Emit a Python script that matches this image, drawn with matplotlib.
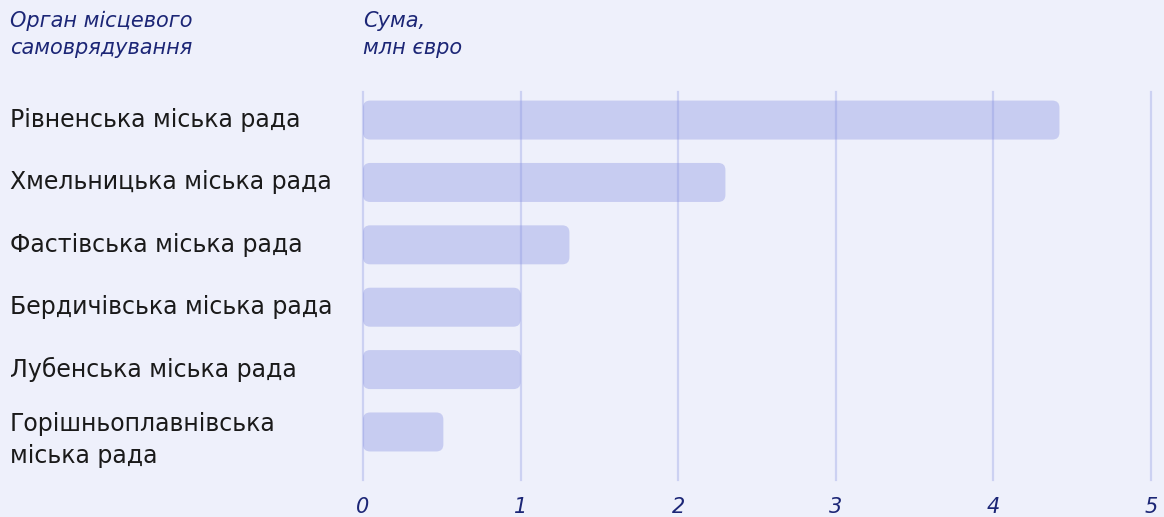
import matplotlib.pyplot as plt
import matplotlib.transforms as mtransforms
from matplotlib.patches import FancyBboxPatch

# --- Дані ---
councils = [
    "Рівненська міська рада",
    "Хмельницька міська рада",
    "Фастівська міська рада",
    "Бердичівська міська рада",
    "Лубенська міська рада",
    "Горішньоплавнівська\nміська рада",
]
amounts = [4.42, 2.30, 1.31, 1.00, 1.00, 0.51]
x_ticks = [0, 1, 2, 3, 4, 5]

BG = "#eef0fb"
BAR = "#c7ccf1"
NAVY = "#1c2676"
TEXT = "#1a1a1a"

plt.rcParams['font.family'] = ['DejaVu Sans']

fig = plt.figure(figsize=(11.64, 5.17), dpi=100, facecolor=BG)
W, H = 1164, 517
left, right, top, bottom = 363, 1154, 92, 480
ax = fig.add_axes([left / W, 1 - bottom / H, (right - left) / W, (bottom - top) / H])
ax.set_facecolor(BG)

y = list(range(len(councils)))
bars = ax.barh(y, amounts, height=0.625, color=BAR, zorder=1)

ax.set_xlim(0, 5.02)
ax.set_ylim(5.77, -0.45)

# заокруглені кути барів
px_x = (right - left) / 5.02
px_y = (bottom - top) / 6.22
for rect in list(bars):
    rx, ry = rect.get_x(), rect.get_y()
    rw, rh = rect.get_width(), rect.get_height()
    rect.remove()
    ax.add_patch(FancyBboxPatch((rx, ry), rw, rh,
                                boxstyle="round,pad=0,rounding_size=0.045",
                                mutation_aspect=px_x / px_y,
                                facecolor=BAR, edgecolor="none", zorder=1))

# вертикальна сітка
for t in x_ticks:
    ax.axvline(t, color="#7f8ae0", alpha=0.3, lw=1.6, zorder=2, clip_on=False)

ax.set_xticks(x_ticks)
ax.set_xticklabels([str(t) for t in x_ticks], fontstyle='italic', fontsize=15, color=NAVY)
ax.tick_params(axis='x', length=0, pad=12)
ax.set_yticks([])
for s in ax.spines.values():
    s.set_visible(False)

# підписи категорій
trans = mtransforms.blended_transform_factory(fig.transFigure, ax.transData)
for i, name in enumerate(councils):
    off = 0.13 if "\n" in name else 0
    ax.text(10 / W, i + off, name, transform=trans, ha='left', va='center',
            fontsize=17, color=TEXT, linespacing=1.45)

# заголовки колонок
fig.text(10 / W, 1 - 11 / H, "Орган місцевого\nсамоврядування", ha='left', va='top',
         fontsize=15, fontstyle='italic', color=NAVY, linespacing=1.45)
fig.text(363 / W, 1 - 11 / H, "Сума,\nмлн євро", ha='left', va='top',
         fontsize=15, fontstyle='italic', color=NAVY, linespacing=1.45)

fig.savefig("out.png", dpi=100, facecolor=BG)
